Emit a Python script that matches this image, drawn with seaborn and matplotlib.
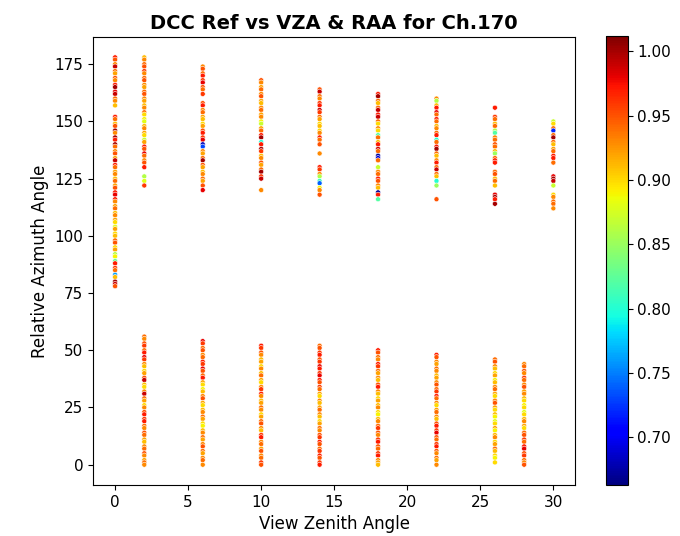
import matplotlib
matplotlib.use('Agg')
import matplotlib.pyplot as plt
import pandas as pd
import seaborn as sns

# view zenith angle columns, relative azimuth angle and DCC reflectance per column
raa_00 = [178, 177, 175, 174, 172, 171, 169, 168, 166, 165, 163, 162, 160, 159, 157,
          152, 151, 149, 148, 146, 145, 143, 142, 140, 139, 137, 136, 134, 133, 131, 130,
          128, 127, 125, 124, 122, 121, 119, 118, 116, 115, 113, 112, 110, 109, 107, 106,
          104, 103, 101, 100, 98, 97, 95, 94, 92, 91, 89, 88, 86, 85, 83, 82, 80, 79, 78]
ref_00 = [0.97, 0.95, 0.93, 0.99, 0.94, 0.92, 0.95, 0.93, 0.97, 1.00, 0.98, 0.99, 0.94, 0.93, 0.91,
          0.97, 0.94, 0.91, 0.95, 1.00, 0.93, 1.00, 0.97, 1.00, 0.94, 0.93, 0.95, 0.92, 0.99, 0.97, 0.94,
          0.92, 0.93, 0.91, 0.94, 0.92, 0.95, 0.97, 0.98, 0.97, 0.93, 0.92, 0.94, 0.91, 0.93, 0.92, 0.90,
          0.88, 0.92, 0.90, 0.91, 0.94, 0.95, 0.90, 0.92, 0.86, 0.89, 0.83, 0.97, 0.96, 0.94, 0.76, 0.91,
          1.00, 0.99, 0.95]

raa_02 = [178, 177, 175, 174, 172, 171, 169, 168, 166, 165, 163, 162, 160, 159, 157, 156,
          154, 153, 151, 150, 148, 147, 145, 144, 142, 141, 139, 138, 136, 135, 133, 132, 130,
          126, 124, 122,
          56, 55, 53, 52, 50, 49, 47, 46, 44, 43, 41, 40, 38, 37, 35, 34, 32, 31, 29, 28,
          26, 25, 23, 22, 20, 19, 17, 16, 14, 13, 11, 10, 8, 7, 5, 4, 2, 1, 0]
ref_02 = [0.91, 0.93, 0.94, 0.95, 0.96, 0.93, 0.94, 0.95, 0.93, 0.92, 0.94, 0.95, 0.93, 0.92, 0.91,
          0.93, 0.94, 0.90, 0.89, 0.88, 0.91, 0.93, 0.92, 0.90, 0.87, 0.92, 0.97, 0.95, 0.98, 0.94,
          0.93, 0.95, 0.97, 0.86, 0.88, 0.96,
          0.94, 0.93, 0.95, 0.96, 0.94, 0.97, 0.98, 0.96, 0.93, 0.91, 0.90, 0.92, 0.95, 0.99, 0.91,
          0.90, 0.93, 0.99, 0.94, 0.92, 0.90, 0.93, 0.95, 0.97, 0.96, 0.97, 0.94, 0.93, 0.95, 0.94,
          0.92, 0.91, 0.93, 0.94, 0.95, 0.93, 0.92, 0.94, 0.93]

raa_06 = [174, 173, 171, 170, 168, 167, 165, 164, 162, 158, 157, 155, 154, 152, 151, 149, 148,
          146, 145, 143, 142, 140, 139, 137, 136, 134, 133, 131, 130, 128, 127, 125, 124, 122, 120,
          54, 53, 51, 50, 48, 47, 45, 44, 42, 41, 39, 38, 36, 35, 33, 32, 30, 29, 27, 26,
          24, 23, 21, 20, 18, 17, 15, 14, 12, 11, 9, 8, 6, 5, 3, 2, 0]
ref_06 = [0.93, 0.95, 0.94, 0.97, 0.96, 0.98, 0.95, 0.94, 0.96, 0.95, 0.97, 0.93, 0.94, 0.92,
          0.91, 0.90, 0.92, 0.95, 0.97, 0.96, 0.98, 0.68, 0.73, 0.93, 0.92, 0.94, 1.00, 0.95, 0.92,
          0.91, 0.93, 0.94, 0.92, 0.95, 0.98,
          0.98, 0.96, 0.94, 0.95, 0.93, 0.94, 0.97, 0.96, 0.98, 0.95, 0.94, 0.97, 0.92, 0.90, 0.89,
          0.91, 0.93, 0.95, 0.92, 0.90, 0.91, 0.93, 0.94, 0.92, 0.90, 0.89, 0.91, 0.93, 0.94, 0.92,
          0.93, 0.95, 0.94, 0.92, 0.93, 0.94, 0.93]

raa_10 = [168, 167, 165, 164, 162, 161, 159, 158, 156, 155, 153, 152, 150, 149, 147, 146,
          144, 143, 141, 140, 138, 137, 135, 134, 132, 131, 129, 128, 126, 125, 120,
          52, 51, 49, 48, 46, 45, 43, 42, 40, 39, 37, 36, 34, 33, 31, 30, 28, 27,
          25, 24, 22, 21, 19, 18, 16, 15, 13, 12, 10, 9, 7, 6, 4, 3, 1, 0]
ref_10 = [0.95, 0.93, 0.92, 0.94, 0.93, 0.95, 0.92, 0.91, 0.93, 0.94, 0.92, 0.93, 0.89, 0.87,
          0.92, 0.94, 0.97, 1.00, 0.80, 0.97, 1.00, 0.96, 0.91, 0.93, 0.95, 0.92, 0.94, 1.00, 0.96,
          0.99, 0.93,
          0.97, 0.96, 0.95, 0.93, 0.91, 0.92, 0.90, 0.93, 0.91, 0.94, 0.92, 0.90, 0.93, 0.96, 0.97,
          0.93, 0.91, 0.92, 0.94, 0.93, 0.90, 0.92, 0.94, 0.95, 0.93, 0.91, 0.96, 0.97, 0.93, 0.94,
          0.92, 0.95, 0.93, 0.94, 0.96, 0.95]

raa_14 = [164, 163, 161, 160, 158, 157, 155, 154, 152, 151, 149, 148, 146, 145, 143, 142, 140,
          136, 130, 129, 127, 126, 124, 123, 121, 120, 118,
          52, 51, 49, 48, 46, 45, 43, 42, 40, 39, 37, 36, 34, 33, 31, 30, 28, 27,
          25, 24, 22, 21, 19, 18, 16, 15, 13, 12, 10, 9, 7, 6, 4, 3, 1, 0]
ref_14 = [0.95, 0.99, 0.94, 0.93, 0.96, 0.97, 0.99, 0.96, 0.94, 0.92, 0.90, 0.91, 0.90, 0.93,
          0.97, 0.94, 0.95, 0.93, 0.97, 0.96, 0.93, 0.86, 0.81, 0.74, 0.89, 0.93, 0.95,
          0.94, 0.95, 0.96, 0.97, 0.95, 0.96, 0.98, 0.97, 0.96, 0.98, 0.97, 0.95, 0.96, 0.94, 0.92,
          0.90, 0.93, 0.91, 0.92, 0.94, 0.93, 0.91, 0.90, 0.92, 0.94, 0.93, 0.95, 0.96, 0.97, 0.95,
          0.94, 0.96, 0.97, 0.95, 0.96, 0.97]

raa_18 = [162, 161, 159, 158, 156, 155, 153, 152, 150, 149, 147, 146, 144, 143, 141, 140,
          138, 137, 135, 134, 133, 130, 128, 127, 125, 124, 122, 121, 119, 118, 116,
          50, 49, 47, 46, 44, 43, 41, 40, 38, 37, 35, 34, 32, 31, 29, 28, 26, 25,
          23, 22, 20, 19, 17, 16, 14, 13, 11, 10, 8, 7, 5, 4, 2, 1, 0]
ref_18 = [0.97, 1.00, 0.94, 0.91, 0.94, 0.99, 0.97, 0.99, 0.94, 0.90, 0.93, 0.90, 0.82, 0.94,
          0.91, 0.97, 0.99, 0.94, 0.67, 0.69, 0.94, 0.87, 0.93, 0.94, 0.97, 0.95, 0.93, 0.91, 0.67,
          0.97, 0.82,
          0.97, 0.95, 0.94, 0.93, 0.97, 0.96, 0.94, 0.92, 0.93, 0.91, 0.95, 0.97, 0.93, 0.91, 0.90,
          0.92, 0.91, 0.93, 0.90, 0.89, 0.91, 0.93, 0.94, 0.96, 0.95, 0.93, 0.96, 0.97, 0.95, 0.94,
          0.96, 0.97, 0.93, 0.92, 0.91]

raa_22 = [160, 159, 157, 156, 154, 153, 151, 150, 148, 147, 145, 144, 142, 141, 139, 138,
          136, 135, 133, 132, 130, 129, 127, 126, 124, 122, 116,
          48, 47, 45, 44, 42, 41, 39, 38, 36, 35, 33, 32, 30, 29, 27, 26, 24, 23,
          21, 20, 18, 17, 15, 14, 12, 11, 9, 8, 6, 5, 3, 2, 0]
ref_22 = [0.93, 0.86, 0.91, 0.97, 0.98, 0.94, 0.97, 0.94, 0.91, 0.93, 0.94, 0.97, 0.80, 0.94,
          0.97, 1.00, 0.94, 0.91, 0.93, 0.97, 0.94, 0.99, 0.94, 0.91, 0.80, 0.85, 0.95,
          0.97, 0.95, 0.93, 0.92, 0.94, 0.93, 0.91, 0.92, 0.93, 0.95, 0.94, 0.96, 0.97, 0.94, 0.93,
          0.90, 0.92, 0.94, 0.93, 0.91, 0.95, 0.97, 0.96, 0.98, 0.95, 0.94, 0.96, 0.97, 0.95, 0.93,
          0.94, 0.92, 0.93]

raa_26 = [156, 152, 151, 149, 148, 146, 145, 143, 142, 140, 139, 137, 136, 134, 133, 132,
          128, 127, 125, 124, 122, 118, 117, 116, 114,
          46, 45, 43, 42, 40, 39, 37, 36, 34, 33, 31, 30, 28, 27, 25, 24, 22, 21,
          19, 18, 16, 15, 13, 12, 10, 9, 7, 6, 4, 3, 1]
ref_26 = [0.97, 0.96, 0.94, 0.91, 0.94, 0.86, 0.82, 0.93, 0.94, 0.95, 0.94, 0.91, 0.85, 0.94,
          0.97, 0.97, 0.94, 0.95, 0.91, 0.94, 0.91, 0.98, 1.00, 0.97, 1.00,
          0.94, 0.95, 0.93, 0.91, 0.90, 0.92, 0.89, 0.91, 0.93, 0.94, 0.92, 0.90, 0.93, 0.95, 0.92,
          0.90, 0.91, 0.89, 0.88, 0.90, 0.92, 0.89, 0.91, 0.93, 0.90, 0.92, 0.94, 0.91, 0.90, 0.89,
          0.90]

raa_28 = [44, 43, 41, 40, 38, 37, 35, 34, 32, 31, 29, 28, 26, 25, 23, 22, 20, 19,
          17, 16, 14, 13, 11, 10, 8, 7, 5, 4, 2, 1, 0]
ref_28 = [0.93, 0.94, 0.95, 0.93, 0.96, 0.94, 0.93, 0.95, 0.92, 0.93, 0.91, 0.90, 0.89, 0.90,
          0.88, 0.90, 0.91, 0.93, 0.92, 0.90, 0.94, 0.95, 0.96, 0.94, 0.97, 0.98, 0.95, 0.96, 0.94,
          0.93, 0.95]

raa_30 = [150, 149, 147, 146, 144, 143, 141, 140, 138, 137, 135, 134, 132,
          126, 125, 124, 122, 118, 117, 115, 114, 112]
ref_30 = [0.87, 0.90, 0.94, 0.72, 0.94, 1.00, 0.94, 0.91, 0.92, 0.94, 0.97, 0.97, 0.94,
          0.98, 1.00, 0.99, 0.87, 0.90, 0.93, 0.94, 0.94, 0.93]

vza_values = [0, 2, 6, 10, 14, 18, 22, 26, 28, 30]
raa_lists = [raa_00, raa_02, raa_06, raa_10, raa_14, raa_18, raa_22, raa_26, raa_28, raa_30]
ref_lists = [ref_00, ref_02, ref_06, ref_10, ref_14, ref_18, ref_22, ref_26, ref_28, ref_30]

# colour scale limits as shown on the colour bar
ref_min, ref_max = 0.663, 1.012
jet = matplotlib.colormaps['jet']

frames = []
for vza, raa, ref in zip(vza_values, raa_lists, ref_lists):
    frames.append(pd.DataFrame({'VZA': vza, 'RAA': raa, 'Ref': ref}))
df = pd.concat(frames, ignore_index=True)

fig = plt.figure(figsize=(6.8, 5.36), dpi=100)
ax = fig.add_axes([0.137, 0.095, 0.709, 0.836])
cax = fig.add_axes([0.891, 0.095, 0.032, 0.838])

sns.scatterplot(data=df, x='VZA', y='RAA', hue='Ref', palette=jet,
                hue_norm=(ref_min, ref_max), s=13, edgecolor='white',
                linewidth=0.4, legend=False, ax=ax)

ax.set_title('DCC Ref vs VZA & RAA for Ch.170', fontweight='bold', fontsize=14)
ax.set_xlabel('View Zenith Angle', fontsize=12)
ax.set_ylabel('Relative Azimuth Angle', fontsize=12)
ax.tick_params(labelsize=11)

sm = plt.cm.ScalarMappable(cmap=jet, norm=plt.Normalize(ref_min, ref_max))
cb = fig.colorbar(sm, cax=cax)
cb.ax.tick_params(labelsize=11)

plt.savefig('out.png', dpi=100)
